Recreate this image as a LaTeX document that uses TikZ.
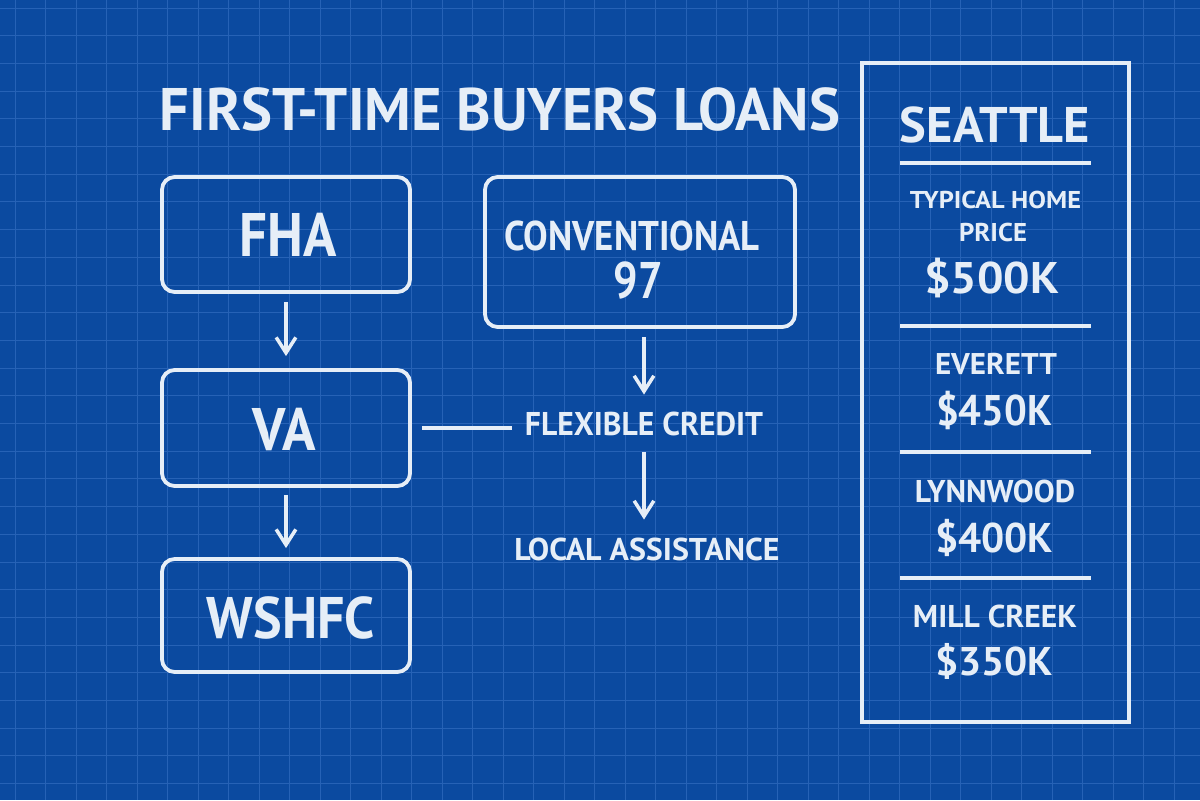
\documentclass[tikz,border=0pt]{standalone}
\usepackage{fontspec}
\setmainfont{PT Sans}
\usetikzlibrary{arrows.meta}
\definecolor{bpbg}{RGB}{11,74,160}
\definecolor{bpgrid}{RGB}{38,98,182}
\definecolor{ink}{RGB}{230,238,247}
\newsavebox\fitbox
\newcommand\fw[3]{\sbox\fitbox{\fontsize{#1pt}{#1pt}\selectfont\bfseries #3}\pgfmathsetmacro\fitfac{#2*0.71131/\wd\fitbox}\scalebox{\fitfac}[1]{\usebox\fitbox}}
\def\u{0.025cm}
\tikzset{
  gridline/.style={draw=bpgrid, line width=0.7pt},
  loanbox/.style={draw=ink, line width=2.7pt, rounded corners=9pt, inner sep=0pt, minimum width=248*\u},
  panel/.style={draw=ink, line width=2.5pt, inner sep=0pt},
  lbl/.style={text=ink, inner sep=0pt, outer sep=0pt},
  conn/.style={draw=ink, line width=2.7pt},
  arr/.style={conn, -{Straight Barb[length=11pt, width=14pt, line width=2.5pt]}},
  sep/.style={draw=ink, line width=2.7pt}
}
\begin{document}
\begin{tikzpicture}[x=0.025cm, y=-0.025cm]
\useasboundingbox (0,0) rectangle (1200,800);
\fill[bpbg] (0,0) rectangle (1200,800);
\foreach \k in {0,...,39} \draw[gridline] ({15+30.5*\k},0) -- ({15+30.5*\k},800);
\foreach \k in {0,...,29} \draw[gridline] (0,{8+27.7*\k}) -- (1200,{8+27.7*\k});

% title
\node[lbl] (title) at (500,109) {\fw{42.7}{680}{FIRST-TIME BUYERS LOANS}};

% left column
\node[loanbox, minimum height=115*\u] (fha) at (286,234.5) {};
\node[lbl] (fhat) at (288,234.5) {\fw{43.7}{97}{FHA}};
\node[loanbox, minimum height=116*\u] (va) at (286,428) {};
\node[lbl] (vat) at (284,429) {\fw{42.7}{63}{VA}};
\node[loanbox, minimum height=113*\u] (ws) at (286,615.5) {};
\node[lbl] (wst) at (291,617.5) {\fw{41.7}{168}{WSHFC}};

\draw[arr, shorten <=8*\u, shorten >=12*\u] (fha.south) -- (va.north);
\draw[arr, shorten <=7*\u, shorten >=9*\u] (va.south) -- (ws.north);

% middle column
\node[loanbox, minimum width=310*\u, minimum height=150*\u] (conv) at (640,252) {};
\node[lbl] (convt) at (632,235.5) {\fw{29.5}{255}{CONVENTIONAL}};
\node[lbl] (convn) at (638,280) {\fw{36.6}{49}{97}};
\node[lbl] (flex) at (644,423.5) {\fw{23.4}{238}{FLEXIBLE CREDIT}};
\node[lbl] (local) at (647,549) {\fw{22.4}{265}{LOCAL ASSISTANCE}};

\draw[arr, shorten <=8*\u, shorten >=17*\u] (conv.south -| flex.north) -- (flex.north);
\draw[arr, shorten <=17*\u, shorten >=18*\u] (flex.south) -- (flex.south |- local.north);
\draw[conn, shorten <=10*\u, shorten >=13*\u] (va.east) -- (va.east -| flex.west);

% right panel
\node[panel, minimum width=267*\u, minimum height=659*\u] (pan) at (995.5,392.5) {};
\node[lbl] (sea) at (995,124.5) {\fw{35.6}{190}{SEATTLE}};
\draw[sep] (900,163) -- (1091,163);
\node[lbl] (typ) at (995.5,200) {\fw{17.3}{171}{TYPICAL HOME}};
\node[lbl] (pri) at (993,232) {\fw{18.3}{68}{PRICE}};
\node[lbl] (p500) at (991.5,277.5) {\fw{31.5}{135}{\$500K}};
\draw[sep] (900,326) -- (1091,326);
\node[lbl] (eve) at (996,363.5) {\fw{21.3}{122}{EVERETT}};
\node[lbl] (p450) at (994,410) {\fw{30.5}{116}{\$450K}};
\draw[sep] (900,452) -- (1091,452);
\node[lbl] (lyn) at (995,491) {\fw{22.4}{160}{LYNNWOOD}};
\node[lbl] (p400) at (994,537.5) {\fw{29.5}{118}{\$400K}};
\draw[sep] (900,578) -- (1091,578);
\node[lbl] (mill) at (995,616) {\fw{22.4}{164}{MILL CREEK}};
\node[lbl] (p350) at (994,661) {\fw{28.5}{118}{\$350K}};
\end{tikzpicture}
\end{document}
